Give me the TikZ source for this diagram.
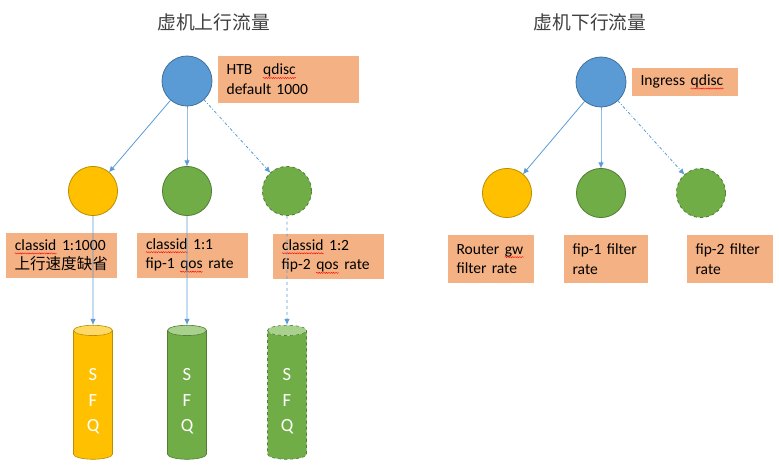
\documentclass[tikz,border=0pt]{standalone}
\usepackage{tikz}
\usepackage{tikz-network}
\usepackage{fontspec}
\usetikzlibrary{shapes.geometric, decorations.pathmorphing, arrows.meta}
\setmainfont{Carlito}
\newfontfamily\cjk{Noto Sans CJK SC}

\definecolor{flowblue}{HTML}{5B9BD5}
\definecolor{bluefill}{HTML}{5B9BD5}
\definecolor{blueline}{HTML}{41719C}
\definecolor{goldfill}{HTML}{FFC000}
\definecolor{goldline}{HTML}{BC8C00}
\definecolor{goldtop}{HTML}{FFD966}
\definecolor{greenfill}{HTML}{70AD47}
\definecolor{greenline}{HTML}{507E32}
\definecolor{greentop}{HTML}{A9D18E}
\definecolor{boxorange}{HTML}{F4B183}
\definecolor{titlegray}{HTML}{404040}

% red spell-check wave under a word
\newcommand{\spellwave}[1]{\tikz[baseline = (w.base)]{\node[inner sep = 0pt, text width =, minimum width = 0pt, minimum height = 0pt, fill = none, draw = none] (w) {#1}; \draw[red, line width = 0.4pt, decorate, decoration = {snake, amplitude = 0.6pt, segment length = 2.4pt}] ([yshift = -3pt]w.base west) -- ([yshift = -3pt]w.base east);}}

\tikzset{
	notebox/.style = {fill = boxorange, align = left, inner xsep = 0.3cm, inner ysep = 0pt, font = \fontsize{15.5}{19.5}\selectfont},
	sfqcyl/.style = {cylinder, shape border rotate = 90, aspect = 0.9, minimum width = 1.365cm, minimum height = 4.69cm, cylinder uses custom fill, line width = 0.6pt, inner sep = 0pt},
	sfqtext/.style = {align = center, text = white, inner sep = 0pt, font = \fontsize{18.5}{25}\selectfont},
	titletext/.style = {font = \cjk\fontsize{18.7}{24}\selectfont, text = titlegray},
	flowtip/.style = {-{Latex[length = 6pt, width = 5.5pt]}}
}

\begin{document}
\begin{tikzpicture}
		\useasboundingbox (0,0) rectangle (27.265,-16.345);
		% titles
		\node[titletext] (uptitle) at (7.48,-0.77) {虚机上行流量};
		\node[titletext] (downtitle) at (20.65,-0.77) {虚机下行流量};
		% upstream tree
		\Vertex[x = 6.545, y = -2.835, size = 1.75, color = bluefill, style = {draw = blueline, line width = 0.8pt}]{up}
		\Vertex[x = 3.255, y = -6.685, size = 1.72, color = goldfill, style = {draw = goldline, line width = 0.8pt}]{upgold}
		\Vertex[x = 6.545, y = -6.685, size = 1.72, color = greenfill, style = {draw = greenline, line width = 0.8pt}]{upgreen}
		\Vertex[x = 10.045, y = -6.685, size = 1.72, color = greenfill, style = {draw = greenline, line width = 0.8pt, dashed}]{upgreenb}
		\node[notebox, text width = 4.335cm, minimum height = 1.645cm] (htb) at (10.10,-2.78) {HTB\ \ \spellwave{qdisc}\\default 1000};
		\node[notebox, text width = 3.285cm, minimum height = 1.6cm] (cls1000) at (2.15,-8.94) {\spellwave{classid} 1:1000\\{\cjk 上行速度缺省}};
		\node[notebox, text width = 3.285cm, minimum height = 1.6cm] (cls1) at (6.74,-8.94) {\spellwave{classid} 1:1\\fip-1 \spellwave{qos} rate};
		\node[notebox, text width = 3.285cm, minimum height = 1.6cm] (cls2) at (11.50,-8.98) {\spellwave{classid} 1:2\\fip-2 \spellwave{qos} rate};
		\node[sfqcyl, cylinder body fill = goldfill, cylinder end fill = goldtop, draw = goldline] (sfqgold) at (3.255,-13.825) {\rule{0pt}{2.2cm}\rule{0.4cm}{0pt}};
		\node[sfqcyl, cylinder body fill = greenfill, cylinder end fill = greentop, draw = greenline] (sfqgreen) at (6.545,-13.825) {\rule{0pt}{2.2cm}\rule{0.4cm}{0pt}};
		\node[sfqcyl, cylinder body fill = greenfill, cylinder end fill = greentop, draw = greenline, dashed] (sfqgreenb) at (10.045,-13.825) {\rule{0pt}{2.2cm}\rule{0.4cm}{0pt}};
		\node[sfqtext] (sfqgoldtxt) at ([yshift = -0.22cm]sfqgold.center) {S\\F\\Q};
		\node[sfqtext] (sfqgreentxt) at ([yshift = -0.22cm]sfqgreen.center) {S\\F\\Q};
		\node[sfqtext] (sfqgreenbtxt) at ([yshift = -0.22cm]sfqgreenb.center) {S\\F\\Q};
		\Edge[color = flowblue, lw = 0.8, NotInBG, style = {flowtip}](up)(upgold)
		\Edge[color = flowblue, lw = 0.8, NotInBG, style = {flowtip}](up)(upgreen)
		\Edge[color = flowblue, lw = 0.8, NotInBG, style = {flowtip, dash dot}](up)(upgreenb)
		\Edge[color = flowblue, lw = 0.8, NotInBG, style = {flowtip}](upgold)(sfqgold)
		\Edge[color = flowblue, lw = 0.8, NotInBG, style = {flowtip}](upgreen)(sfqgreen)
		\Edge[color = flowblue, lw = 0.8, NotInBG, style = {flowtip, dashed}](upgreenb)(sfqgreenb)
		% downstream tree
		\Vertex[x = 21.035, y = -2.87, size = 1.75, color = bluefill, style = {draw = blueline, line width = 0.8pt}]{down}
		\Vertex[x = 17.745, y = -6.755, size = 1.72, color = goldfill, style = {draw = goldline, line width = 0.8pt}]{downgold}
		\Vertex[x = 21.035, y = -6.755, size = 1.72, color = greenfill, style = {draw = greenline, line width = 0.8pt}]{downgreen}
		\Vertex[x = 24.535, y = -6.755, size = 1.72, color = greenfill, style = {draw = greenline, line width = 0.8pt, dashed}]{downgreenb}
		\node[notebox, text width = 3.11cm, minimum height = 0.98cm] (ingress) at (23.975,-2.87) {Ingress \spellwave{qdisc}};
		\node[notebox, text width = 2.41cm, minimum height = 1.68cm] (routergw) at (17.185,-9.065) {Router \spellwave{gw}\\filter rate};
		\node[notebox, text width = 2.34cm, minimum height = 1.68cm] (fipone) at (21.21,-9.065) {fip-1 filter\\rate};
		\node[notebox, text width = 2.41cm, minimum height = 1.68cm] (fiptwo) at (25.55,-9.065) {fip-2 filter\\rate};
		\Edge[color = flowblue, lw = 0.8, NotInBG, style = {flowtip}](down)(downgold)
		\Edge[color = flowblue, lw = 0.8, NotInBG, style = {flowtip}](down)(downgreen)
		\Edge[color = flowblue, lw = 0.8, NotInBG, style = {flowtip, dash dot}](down)(downgreenb)
	\end{tikzpicture}
\end{document}
